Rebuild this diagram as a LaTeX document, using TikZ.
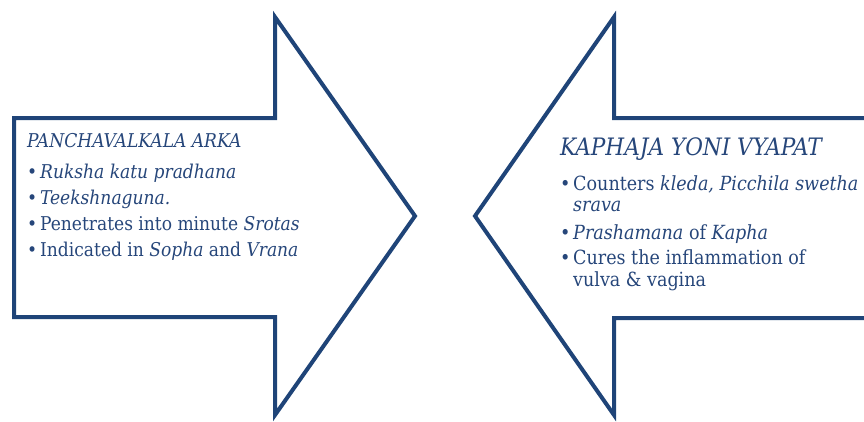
\documentclass[tikz,border=0pt]{standalone}
\usepackage{fontspec}
\setmainfont{DejaVu Serif Condensed}
\definecolor{navy}{RGB}{31,68,120}
\definecolor{inkblue}{RGB}{38,70,122}

\begin{document}
\begin{tikzpicture}[x=1pt,y=-1pt,line join=miter]
  \tikzstyle{arrowline}=[draw=navy,line width=4pt]
  \tikzstyle{txt}=[anchor=base west,inner sep=0pt,text=inkblue,font=\fontsize{19}{22}\selectfont]
  \tikzstyle{bigtxt}=[txt,font=\fontsize{19.5}{22}\selectfont]
  \useasboundingbox (0,0) rectangle (864,421);
  \clip (0,0) rectangle (864,421);
  % left arrow
  \draw[arrowline] (14,118) -- (275,118) -- (275,17) -- (415,216) -- (275,415) -- (275,317) -- (14,317) -- cycle;
  % right arrow, cut off by the right edge
  \draw[arrowline] (884,118) -- (614,118) -- (614,17) -- (475,216) -- (614,415) -- (614,318) -- (884,318);
  % left text
  \node[txt,font=\fontsize{19}{22}\selectfont\itshape] (ltitle) at (27,147) {PANCHAVALKALA ARKA};
  \foreach \yy/\itemtext in {178/{\emph{Ruksha katu pradhana}}, 204/{\emph{Teekshnaguna.}},
      230/{Penetrates into minute \emph{Srotas}}, 256/{Indicated in \emph{Sopha} and \emph{Vrana}}}{
    \node[txt] (lb-\yy) at (27,\yy) {\textbullet};
    \node[txt] (li-\yy) at (40,\yy) {\itemtext};
  }
  % right text
  \node[txt,font=\fontsize{24}{27}\selectfont\itshape] (rtitle) at (560,155) {KAPHAJA YONI VYAPAT};
  \foreach \yy in {190,239,264}
    \node[bigtxt] (rb-\yy) at (560,\yy) {\textbullet};
  \foreach \yy/\itemtext in {190/{Counters \emph{kleda, Picchila swetha}}, 211/{\emph{srava}},
      239/{\emph{Prashamana} of \emph{Kapha}}, 264/{Cures the inflammation of}, 286/{vulva \& vagina}}
    \node[bigtxt] (ri-\yy) at (573,\yy) {\itemtext};
\end{tikzpicture}
\end{document}
